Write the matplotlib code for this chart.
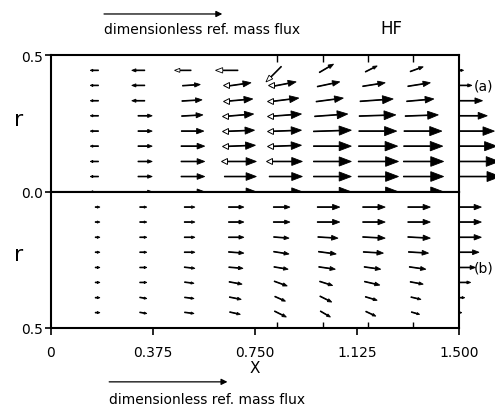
import numpy as np
import matplotlib
matplotlib.use('Agg')
import matplotlib.pyplot as plt

plt.rcParams['font.family'] = ['DejaVu Sans']

# ---------------- data ----------------
x_cols = [0.167, 0.333, 0.500, 0.667, 0.833, 1.000, 1.167, 1.333]
x_out = 1.5
r_rows = [0.444, 0.389, 0.333, 0.278, 0.222, 0.167, 0.111, 0.056]   # wall -> axis

# (a) upper half: axial (u) and radial (v) dimensionless mass flux, u_a[col][row], rows wall -> axis
u_a = [
    [-0.07, -0.07, -0.07, -0.07, -0.07, -0.07, -0.07, -0.07],
    [-0.11, -0.11, -0.11, 0.12, 0.12, 0.12, 0.12, 0.12],
    [-0.14, 0.15, 0.17, 0.18, 0.19, 0.20, 0.20, 0.20],
    [-0.19, 0.21, 0.23, 0.24, 0.25, 0.26, 0.27, 0.27],
    [-0.13, 0.21, 0.24, 0.27, 0.27, 0.27, 0.28, 0.28],
    [0.12, 0.19, 0.23, 0.28, 0.32, 0.32, 0.32, 0.32],
    [0.10, 0.19, 0.28, 0.31, 0.32, 0.33, 0.34, 0.34],
    [0.11, 0.19, 0.23, 0.28, 0.32, 0.33, 0.34, 0.34],
]
v_a = [
    [0, 0, 0, 0, 0, 0, 0, 0],
    [0, 0, 0, 0, 0, 0, 0, 0],
    [0, 0.01, 0.01, 0.01, 0, 0, 0, 0],
    [0, 0.03, 0.02, 0.02, 0.01, 0.01, 0, 0],
    [-0.13, 0.04, 0.03, 0.02, 0.01, 0.01, 0, 0],
    [0.07, 0.04, 0.03, 0.02, 0.01, 0, 0, 0],
    [0.05, 0.03, 0.02, 0.01, 0, 0, 0, 0],
    [0.04, 0.03, 0.02, 0.01, 0, 0, 0, 0],
]
u_a_out = [0.04, 0.11, 0.20, 0.24, 0.30, 0.32, 0.34, 0.35]
u_a_axis = [-0.07, 0.12, 0.20, 0.27, 0.28, 0.32, 0.34, 0.34]
u_a_axis_out = 0.36

# (b) lower half, rows axis -> wall
u_b = [
    [0.04, 0.04, 0.04, 0.04, 0.04, 0.04, 0.04, 0.04],
    [0.06, 0.06, 0.06, 0.06, 0.06, 0.06, 0.06, 0.06],
    [0.09, 0.09, 0.09, 0.09, 0.09, 0.08, 0.08, 0.08],
    [0.13, 0.13, 0.13, 0.13, 0.12, 0.11, 0.10, 0.09],
    [0.14, 0.14, 0.13, 0.13, 0.12, 0.11, 0.09, 0.10],
    [0.19, 0.19, 0.17, 0.15, 0.14, 0.11, 0.10, 0.085],
    [0.19, 0.19, 0.19, 0.17, 0.14, 0.13, 0.10, 0.085],
    [0.19, 0.19, 0.19, 0.17, 0.14, 0.11, 0.085, 0.07],
]
v_b = [
    [0, 0, 0, 0, 0, 0, 0, 0],
    [0, 0, 0, 0, 0, 0, 0.01, 0.01],
    [0, 0, 0, 0, 0.01, 0.01, 0.01, 0.01],
    [0, 0, 0, 0.01, 0.01, 0.02, 0.02, 0.02],
    [0, 0, 0.01, 0.02, 0.02, 0.04, 0.04, 0.05],
    [0, 0, 0.01, 0.02, 0.02, 0.035, 0.05, 0.05],
    [0, 0, 0.01, 0.01, 0.02, 0.03, 0.03, 0.04],
    [0, 0, 0.01, 0.01, 0.02, 0.02, 0.02, 0.02],
]
u_b_out = [0.19, 0.19, 0.19, 0.17, 0.14, 0.10, 0.05, 0.025]

x_ticks = [0, 0.375, 0.75, 1.125, 1.5]
x_ticklabels = ['0', '0.375', '0.750', '1.125', '1.500']

# ---------------- drawing ----------------
S = 0.435   # data length of the reference arrow (1 dimensionless unit)

def draw(ax, x, y, u, v, tail_frac=0.25, open_head=False, clip=True):
    dx, dy = u * S, v * S
    L = np.hypot(dx, dy)
    if L == 0:
        return
    x0, y0 = x - tail_frac * dx, y - tail_frac * dy
    hl = max(0.32 * L, 0.010)
    hw = max(0.24 * L, 0.008)
    ax.arrow(x0, y0, dx, dy, width=0.003, head_width=hw, head_length=hl,
             length_includes_head=True, fc='white' if open_head else 'black',
             ec='black', lw=0.6, clip_on=clip)

fig = plt.figure(figsize=(4.95, 4.06), dpi=100)
ax1 = fig.add_axes([0.103, 0.525, 0.824, 0.337])
ax2 = fig.add_axes([0.103, 0.190, 0.824, 0.335])

for ax in (ax1, ax2):
    ax.set_xlim(0, 1.5)
    for s in ax.spines.values():
        s.set_linewidth(1.5)
ax1.set_ylim(0, 0.5)
ax2.set_ylim(0.5, 0)

# upper (a)
for i, xc in enumerate(x_cols):
    for j, rr in enumerate(r_rows):
        u, v = u_a[i][j], v_a[i][j]
        draw(ax1, xc, rr, u, v, open_head=(u < 0 and i >= 2))
        if i in (3, 4) and 1 <= j <= 6:
            ax1.plot(xc - 0.25 * u * S, rr, marker='<', ms=4, mfc='white',
                     mec='black', mew=0.7)
    draw(ax1, xc, 0.0, u_a_axis[i], 0)
for j, rr in enumerate(r_rows):
    draw(ax1, x_out, rr, u_a_out[j], 0, tail_frac=0, clip=False)
draw(ax1, x_out, 0.0, u_a_axis_out, 0, tail_frac=0)

# lower (b): rows run from the axis to the wall
r_rows_b = r_rows[::-1]
for i, xc in enumerate(x_cols):
    for j, rr in enumerate(r_rows_b):
        draw(ax2, xc, rr, u_b[i][j], v_b[i][j])
for j, rr in enumerate(r_rows_b):
    draw(ax2, x_out, rr, u_b_out[j], 0, tail_frac=0, clip=False)

# ticks
ax1.set_xticks([])
ax1.set_xticks(x_cols[4:], minor=True)
ax1.tick_params(axis='x', which='minor', top=True, bottom=False,
                direction='in', length=5, width=1)
ax1.set_yticks([0, 0.5])
ax1.set_yticklabels(['0.0', '0.5'])
ax1.tick_params(axis='y', direction='out', length=4, width=1.2, labelsize=10, pad=2)

ax2.set_xticks(x_ticks)
ax2.set_xticklabels(x_ticklabels)
ax2.set_xticks(x_cols[4:], minor=True)
ax2.tick_params(axis='x', which='major', direction='out', length=5, width=1.2,
                labelsize=10, pad=7)
ax2.tick_params(axis='x', which='minor', direction='in', length=4, width=1)
ax2.set_yticks([0.5])
ax2.set_yticklabels(['0.5'])
ax2.tick_params(axis='y', direction='out', length=4, width=1.2, labelsize=10, pad=2)
ax2.set_xlabel('X', fontsize=11, labelpad=1)

ax1.text(-0.079, 0.53, 'r', transform=ax1.transAxes, fontsize=16,
         ha='center', va='center')
ax2.text(-0.079, 0.544, 'r', transform=ax2.transAxes, fontsize=16,
         ha='center', va='center')

ax1.text(1.555, 0.389, '(a)', fontsize=10, ha='left', va='center')
ax2.text(1.555, 0.278, '(b)', fontsize=10, ha='left', va='center')

# reference arrows
ref_x1 = 0.195
ax1.annotate('', xy=(ref_x1 + S, 1.30), xytext=(ref_x1, 1.30),
             xycoords=('data', 'axes fraction'), textcoords=('data', 'axes fraction'),
             arrowprops=dict(arrowstyle='-|>', lw=0.9, color='black',
                             mutation_scale=9, shrinkA=0, shrinkB=0),
             annotation_clip=False)
ax1.text(ref_x1, 1.19, 'dimensionless ref. mass flux', transform=ax1.get_xaxis_transform(),
         fontsize=10, ha='left', va='center')
ax1.text(1.253, 1.195, 'HF', transform=ax1.get_xaxis_transform(),
         fontsize=12, ha='center', va='center')

ref_x2 = 0.214
ax2.annotate('', xy=(ref_x2 + S, -0.397), xytext=(ref_x2, -0.397),
             xycoords=('data', 'axes fraction'), textcoords=('data', 'axes fraction'),
             arrowprops=dict(arrowstyle='-|>', lw=0.9, color='black',
                             mutation_scale=9, shrinkA=0, shrinkB=0),
             annotation_clip=False)
ax2.text(ref_x2, -0.52, 'dimensionless ref. mass flux', transform=ax2.get_xaxis_transform(),
         fontsize=10, ha='left', va='center')

fig.savefig('out.png', dpi=100)
